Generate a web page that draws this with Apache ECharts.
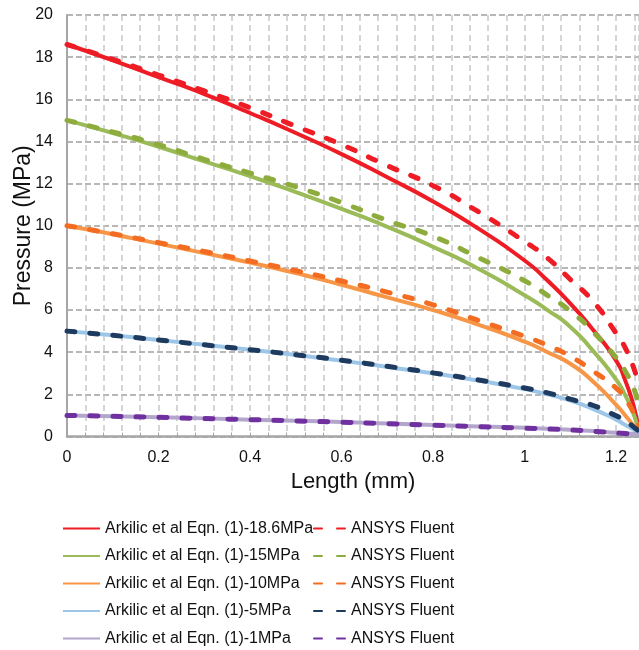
<!DOCTYPE html>
<html>
<head>
<meta charset="utf-8">
<script src="https://cdn.jsdelivr.net/npm/echarts@6/dist/echarts.min.js"></script>
<style>
  html, body { margin: 0; padding: 0; background: #fff; }
  #chart { width: 639px; height: 650px; }
</style>
</head>
<body>
<div id="chart"></div>
<script>
// position along the channel (mm)
const lengthMm = [0, 0.1, 0.2, 0.3, 0.4, 0.5, 0.6, 0.7, 0.8, 0.9, 1.0, 1.05, 1.1, 1.15, 1.2, 1.22, 1.24, 1.25];

// Arkilic et al Eqn. (1), pressure in MPa
const arkilic186 = [18.6, 17.85, 17.05, 16.25, 15.35, 14.4, 13.4, 12.3, 11.15, 9.85, 8.35, 7.4, 6.3, 5.05, 3.6, 2.65, 1.3, 0.1];
const arkilic15  = [15.0, 14.4, 13.75, 13.05, 12.35, 11.6, 10.8, 9.95, 9.0, 7.95, 6.7, 6.0, 5.2, 4.05, 2.7, 1.95, 0.95, 0.1];
const arkilic10  = [10.0, 9.6, 9.15, 8.7, 8.25, 7.75, 7.2, 6.6, 6.0, 5.3, 4.5, 4.0, 3.45, 2.6, 1.5, 1.0, 0.45, 0.1];
const arkilic5   = [5.0, 4.8, 4.58, 4.35, 4.12, 3.87, 3.6, 3.3, 3.0, 2.65, 2.25, 2.0, 1.7, 1.3, 0.8, 0.55, 0.3, 0.1];
const arkilic1   = [1.0, 0.96, 0.91, 0.86, 0.8, 0.75, 0.69, 0.62, 0.55, 0.48, 0.41, 0.37, 0.32, 0.26, 0.18, 0.15, 0.12, 0.1];

// ANSYS Fluent, pressure in MPa
const fluent186 = [18.6, 17.9, 17.15, 16.4, 15.6, 14.72, 13.85, 12.85, 11.9, 10.65, 9.25, 8.47, 7.45, 6.4, 4.9, 4.2, 3.16, 2.4];
const fluent15  = [15.0, 14.45, 13.85, 13.15, 12.5, 11.85, 11.1, 10.25, 9.5, 8.48, 7.39, 6.7, 5.95, 4.96, 3.74, 3.1, 2.2, 1.3];
const fluent10  = [10.0, 9.62, 9.2, 8.78, 8.33, 7.87, 7.38, 6.85, 6.25, 5.5, 4.75, 4.33, 3.8, 3.1, 2.3, 1.78, 1.05, 0.5];
const fluent5   = [5.0, 4.8, 4.58, 4.35, 4.12, 3.88, 3.62, 3.33, 3.02, 2.68, 2.3, 2.07, 1.77, 1.47, 0.98, 0.76, 0.42, 0.25];
const fluent1   = [1.0, 0.96, 0.91, 0.85, 0.8, 0.74, 0.68, 0.61, 0.54, 0.47, 0.4, 0.36, 0.31, 0.25, 0.17, 0.14, 0.11, 0.1];

const inletLabels = ['18.6', '15', '10', '5', '1'];
const arkilicSets = [arkilic186, arkilic15, arkilic10, arkilic5, arkilic1];
const fluentSets = [fluent186, fluent15, fluent10, fluent5, fluent1];
const solidColors = ['#ee1c25', '#9bbb59', '#f79646', '#9cc6e8', '#b3a6cc'];
const dashColors = ['#ee1c25', '#8eac3e', '#f36c21', '#1f3a5f', '#7030a0'];

const FONT = 'Liberation Sans, Arial, sans-serif';

function pairs(ys) {
  return lengthMm.map((x, i) => [x, ys[i]]);
}

const solidNames = inletLabels.map(p => 'Arkilic et al Eqn. (1)-' + p + 'MPa');
const dashNames = inletLabels.map(p => 'ANSYS Fluent#' + p);

const series = [];
arkilicSets.forEach((ys, i) => {
  series.push({
    name: solidNames[i],
    type: 'line',
    data: pairs(ys),
    symbol: 'none',
    smooth: 0.6,
    z: 2,
    lineStyle: { color: solidColors[i], width: 4 },
    itemStyle: { color: solidColors[i] }
  });
});
fluentSets.forEach((ys, i) => {
  series.push({
    name: dashNames[i],
    type: 'line',
    data: pairs(ys),
    symbol: 'none',
    smooth: 0.6,
    z: 3,
    lineStyle: { color: dashColors[i], width: 5, type: [8, 15], cap: 'round' },
    itemStyle: { color: dashColors[i] }
  });
});

const legendBase = {
  orient: 'vertical',
  top: 520.5,
  padding: 0,
  itemWidth: 37,
  itemHeight: 14,
  itemGap: 11.5,
  selectedMode: false,
  itemStyle: { opacity: 0 },
  textStyle: { fontFamily: FONT, fontSize: 16, color: '#111', lineHeight: 16 }
};

const chart = echarts.init(document.getElementById('chart'), null, { renderer: 'canvas' });
chart.setOption({
  animation: false,
  backgroundColor: '#fff',
  grid: { left: 67, right: 0, top: 15, bottom: 213.5, containLabel: false, outerBoundsMode: 'none' },
  legend: [
    Object.assign({}, legendBase, { left: 62, data: solidNames }),
    Object.assign({}, legendBase, { left: 313, itemWidth: 32, data: dashNames,
      formatter: name => name.split('#')[0] })
  ],
  xAxis: {
    type: 'value',
    min: 0,
    max: 1.25,
    interval: 0.04,
    name: 'Length (mm)',
    nameLocation: 'middle',
    nameGap: 34,
    nameMoveOverlap: false,
    nameTextStyle: { fontFamily: FONT, fontSize: 22, color: '#111' },
    axisLine: { lineStyle: { color: '#a6a6a6', width: 2.5 } },
    axisTick: { show: true, inside: true, length: 4, lineStyle: { color: '#a6a6a6', width: 1 } },
    axisLabel: {
      fontFamily: FONT, fontSize: 16, color: '#111', margin: 13,
      showMaxLabel: false,
      formatter: v => {
        const k = v / 0.2;
        if (Math.abs(k - Math.round(k)) > 1e-6) return '';
        return String(+(Math.round(k) * 0.2).toFixed(1));
      }
    },
    splitLine: { show: true, lineStyle: { color: '#c8c8c8', width: 1.5, type: [6, 4] } }
  },
  yAxis: {
    type: 'value',
    min: 0,
    max: 20,
    interval: 2,
    name: 'Pressure (MPa)',
    nameLocation: 'middle',
    nameGap: 32,
    nameMoveOverlap: false,
    nameTextStyle: { fontFamily: FONT, fontSize: 23, color: '#111' },
    axisLine: { show: true, lineStyle: { color: '#a6a6a6', width: 2 } },
    axisTick: { show: false },
    axisLabel: { fontFamily: FONT, fontSize: 16, color: '#111', margin: 14 },
    splitLine: { show: true, lineStyle: { color: '#a0a0a0', width: 1.5, type: [6, 3] } }
  },
  series: series
});
</script>
</body>
</html>
